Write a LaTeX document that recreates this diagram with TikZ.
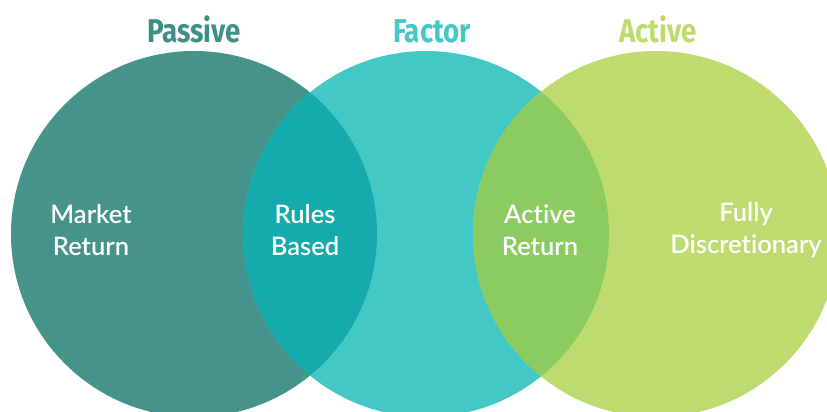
\documentclass[tikz,border=0pt]{standalone}
\usepackage{fontspec}
\setmainfont{Lato}[Ligatures={NoCommon},BoldFont={Lato Semibold}]
\newfontfamily\titlefont{Fira Sans}
\usetikzlibrary{positioning}
\definecolor{passivecol}{HTML}{45938B}
\definecolor{factorcol}{HTML}{43C8C6}
\definecolor{activecol}{HTML}{BEDB6F}
\definecolor{rulescol}{HTML}{15AAAC}
\definecolor{returncol}{HTML}{8BCB5F}
\definecolor{passivetxt}{HTML}{3F8F87}
\begin{document}
\begin{tikzpicture}[x=1pt,y=-1pt,
		bigcircle/.style={circle,minimum size=366pt,inner sep=0pt},
		settitle/.style={font=\titlefont\bfseries\fontsize{33}{33}\selectfont,xscale=0.84,anchor=base},
		setlabel/.style={text=white,align=center,font=\bfseries\fontsize{25.5}{32}\selectfont}
		]
		\useasboundingbox (0,0) rectangle (827,412);
		\clip (0,0) rectangle (827,412);
		% the three sets
		\node[bigcircle,fill=passivecol](P) at (194,234){};
		\node[bigcircle,fill=factorcol](F) at (426,234){};
		\node[bigcircle,fill=activecol](A) at (656,234){};
		% overlaps
		\begin{scope}
			\clip (P.center) circle (183);
			\fill[rulescol] (F.center) circle (183);
		\end{scope}
		\begin{scope}
			\clip (F.center) circle (183);
			\fill[returncol] (A.center) circle (183);
		\end{scope}
		% titles
		\node[settitle,text=passivetxt](TP) at (194,43){Passive};
		\node[settitle,text=factorcol](TF) at (432,43){Factor};
		\node[settitle,text=activecol](TA) at (658,43){Active};
		% labels
		\node[setlabel](LP) at (91,230){Market\\Return};
		\node[setlabel](LPF) at (305,230){Rules\\Based};
		\node[setlabel](LFA) at (540,230){Active\\Return};
		\node[setlabel](LA) at (746,230){Fully\\Discretionary};
\end{tikzpicture}
\end{document}
